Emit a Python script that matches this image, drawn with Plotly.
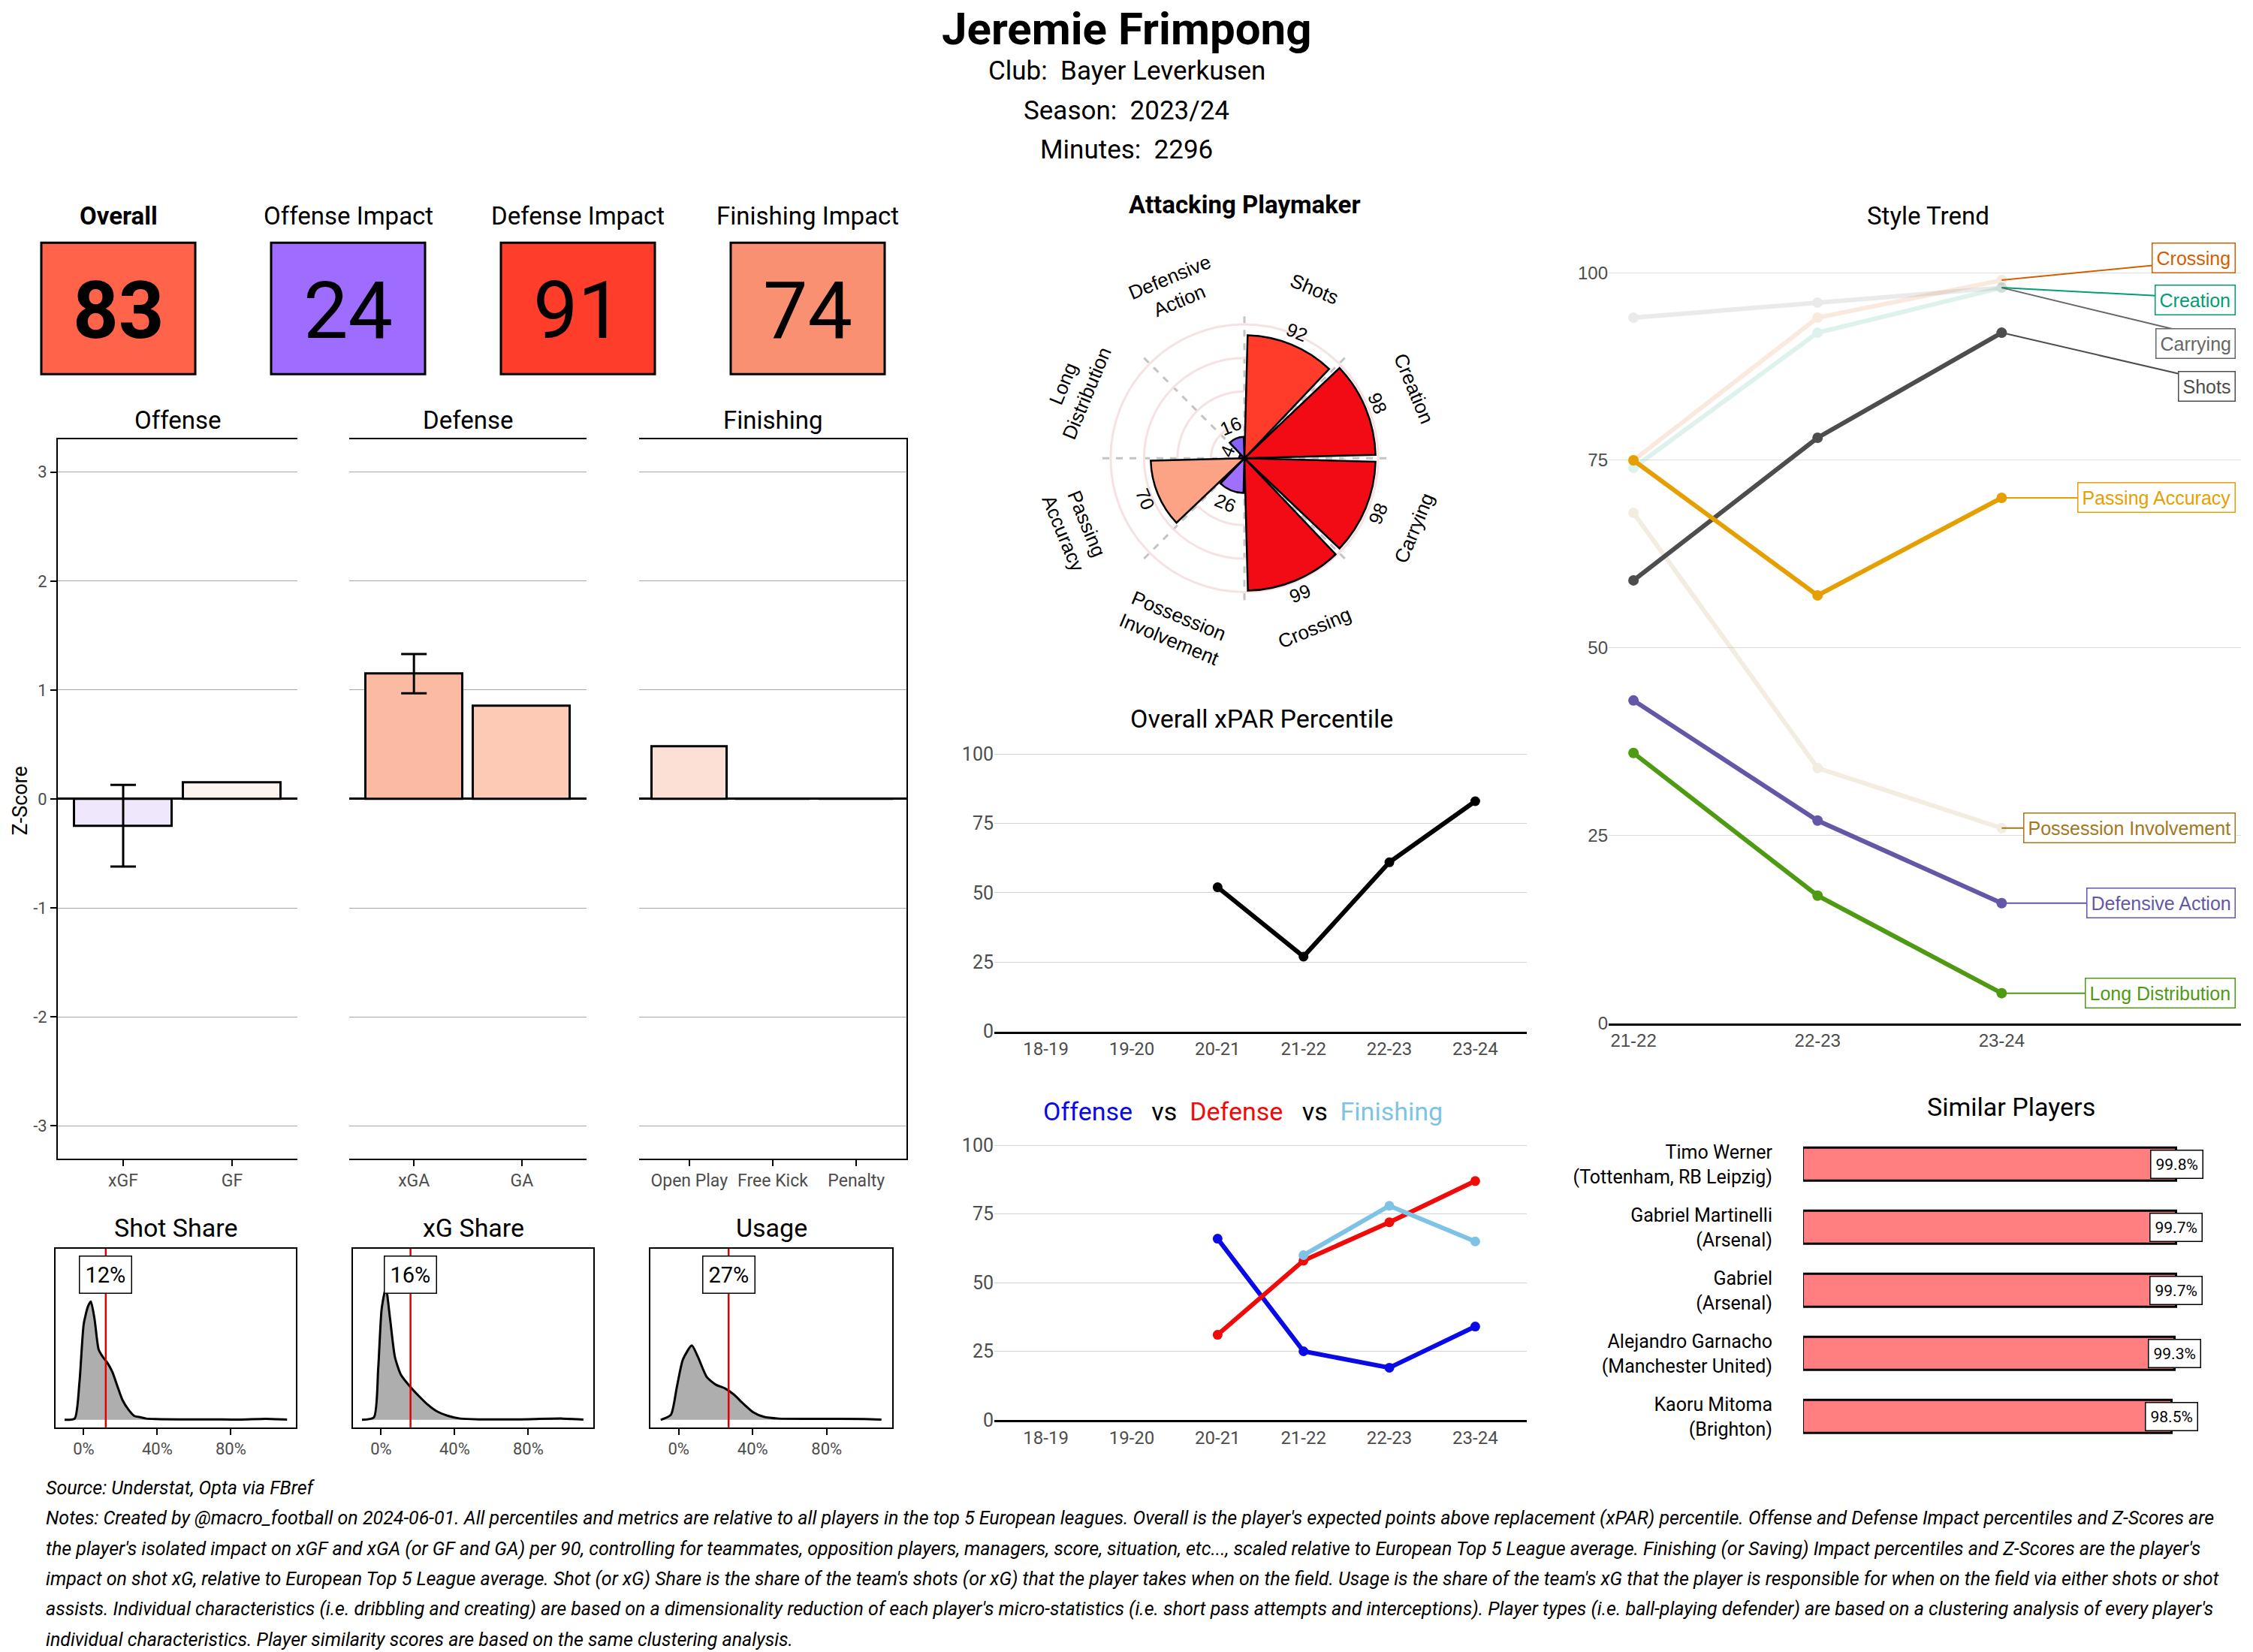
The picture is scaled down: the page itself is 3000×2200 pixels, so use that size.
import math
import plotly.graph_objects as go

W, H = 3000, 2200          # design coordinates (reference pixels)
FIG_H = 2216               # rendered figure height
FONT = "Roboto, Liberation Sans, sans-serif"
SANS = "Liberation Sans, Arial, Helvetica, sans-serif"

# ------------------------------------------------------------------ data
player_name = "Jeremie Frimpong"
club_name = "Bayer Leverkusen"
season_name = "2023/24"
minutes_played = 2296

score_labels = ["Overall", "Offense Impact", "Defense Impact", "Finishing Impact"]
score_values = [83, 24, 91, 74]

offense_cats = ["xGF", "GF"]
offense_z = [-0.25, 0.15]
offense_ci_low = [-0.62, None]
offense_ci_high = [0.13, None]

defense_cats = ["xGA", "GA"]
defense_z = [1.15, 0.85]
defense_ci_low = [0.97, None]
defense_ci_high = [1.33, None]

finishing_cats = ["Open Play", "Free Kick", "Penalty"]
finishing_z = [0.48, 0.0, 0.0]

share_titles = ["Shot Share", "xG Share", "Usage"]
share_values = [12, 16, 27]
shot_share_x = [-10.4, -4.9, -2.3, 0, 2.3, 3.9, 5.9, 8.1, 10.4, 13, 15.6, 18.5, 21, 24.4,
                27.6, 31, 34, 39, 52, 70, 84.5, 99, 110.6]
shot_share_d = [0, 5, 150, 380, 450, 470, 400, 280, 250, 225, 190, 130, 80, 40,
                15, 10, 5, 3, 2, 2, 1, 4, 1]
xg_share_x = [-10.4, -3.9, -1.6, 0.3, 2.6, 4.9, 7.5, 10.7, 16, 20.5, 25.4, 30, 36.7, 43,
              53, 75, 98.7, 110]
xg_share_d = [0, 10, 200, 440, 525, 400, 250, 180, 130, 95, 60, 35, 15, 5,
              2, 2, 5, 1]
usage_x = [-9.7, -4.2, -1, 2.3, 7.1, 10.4, 15.2, 20, 25, 29.9, 34.8, 40.3, 46, 54,
           75, 100, 109.6]
usage_d = [0, 20, 130, 240, 295, 250, 170, 140, 125, 100, 65, 30, 12, 5,
           4, 3, 1]

radar_title = "Attacking Playmaker"
radar_cats = ["Shots", "Creation", "Carrying", "Crossing", "Possession<br>Involvement",
              "Passing<br>Accuracy", "Long<br>Distribution", "Defensive<br>Action"]
radar_vals = [92, 98, 98, 99, 26, 70, 4, 16]

trend_seasons = ["21-22", "22-23", "23-24"]
trend_names = ["Crossing", "Creation", "Carrying", "Possession Involvement",
               "Shots", "Passing Accuracy", "Defensive Action", "Long Distribution"]
crossing_trend = [75, 94, 99]
creation_trend = [74, 92, 98]
carrying_trend = [94, 96, 98]
possession_trend = [68, 34, 26]
shots_trend = [59, 78, 92]
passing_trend = [75, 57, 70]
defensive_trend = [43, 27, 16]
long_dist_trend = [36, 17, 4]

seasons = ["18-19", "19-20", "20-21", "21-22", "22-23", "23-24"]
xpar_pct = [None, None, 52, 27, 61, 83]
offense_pct = [None, None, 66, 25, 19, 34]
defense_pct = [None, None, 31, 58, 72, 87]
finishing_pct = [None, None, None, 60, 78, 65]

similar_names = ["Timo Werner<br>(Tottenham, RB Leipzig)", "Gabriel Martinelli<br>(Arsenal)",
                 "Gabriel<br>(Arsenal)", "Alejandro Garnacho<br>(Manchester United)",
                 "Kaoru Mitoma<br>(Brighton)"]
similar_vals = [99.8, 99.7, 99.7, 99.3, 98.5]

source_text = "Source: Understat, Opta via FBref"
notes_lines = [
    "Notes: Created by @macro_football on 2024-06-01. All percentiles and metrics are relative to all players in the top 5 European leagues. Overall is the player's expected points above replacement (xPAR) percentile. Offense and Defense Impact percentiles and Z-Scores are",
    "the player's isolated impact on xGF and xGA (or GF and GA) per 90, controlling for teammates, opposition players, managers, score, situation, etc..., scaled relative to European Top 5 League average. Finishing (or Saving) Impact percentiles and Z-Scores are the player's",
    "impact on shot xG, relative to European Top 5 League average. Shot (or xG) Share is the share of the team's shots (or xG) that the player takes when on the field. Usage is the share of the team's xG that the player is responsible for when on the field via either shots or shot",
    "assists. Individual characteristics (i.e. dribbling and creating) are based on a dimensionality reduction of each player's micro-statistics (i.e. short pass attempts and interceptions). Player types (i.e. ball-playing defender) are based on a clustering analysis of every player's",
    "individual characteristics. Player similarity scores are based on the same clustering analysis.",
]

# ------------------------------------------------------------------ styles
score_colors = ["#FF634A", "#9E6CFF", "#FF3D2B", "#F99072"]
offense_colors = ["#EFE8FC", "#FDF3EF"]
defense_colors = ["#FBBBA3", "#FCCAB5"]
finishing_colors = ["#FDE0D5", "#FDF3EF", "#FDF3EF"]
radar_colors = ["#FF3B2A", "#F20A14", "#F20A14", "#F20A14", "#9F70FF", "#FCA386", "#7455F0", "#8563F6"]
trend_colors = {"Crossing": "#D55E00", "Creation": "#009E73", "Carrying": "#666666",
                "Possession Involvement": "#A6761D", "Shots": "#4D4D4D",
                "Passing Accuracy": "#E69F00", "Defensive Action": "#6457A8",
                "Long Distribution": "#4F9A13"}
trend_faded = {"Crossing", "Creation", "Carrying", "Possession Involvement"}
trend_label_y = {"Crossing": 102, "Creation": 96.4, "Carrying": 90.6, "Shots": 84.9,
                 "Passing Accuracy": 70, "Possession Involvement": 26,
                 "Defensive Action": 16, "Long Distribution": 4}


def px(x):
    return x / W


def py(y):
    return 1 - y / H


def xd(a, b):
    return [a / W, b / W]


def yd(top, bottom):
    return [1 - bottom / H, 1 - top / H]


fig = go.Figure()
annotations = []
shapes = []


def add_text(text, x, y, size, color="black", family=FONT, xanchor="center",
             yanchor="middle", **kw):
    annotations.append(dict(text=text, x=px(x), y=py(y), xref="paper", yref="paper",
                            showarrow=False, font=dict(family=family, size=size, color=color),
                            xanchor=xanchor, yanchor=yanchor, **kw))


# ------------------------------------------------------------------ header
add_text(f"<b>{player_name}</b>", 1500, 38, 60)
add_text(f"Club:\u00a0 {club_name}", 1500, 94, 35)
add_text(f"Season:\u00a0 {season_name}", 1500, 147, 35)
add_text(f"Minutes:\u00a0 {minutes_played}", 1500, 199, 35)

# ------------------------------------------------------------------ score boxes
box_left = [55, 361, 667, 973]
box_w, box_top, box_bot = 205, 323, 498
for i, (lab, val) in enumerate(zip(score_labels, score_values)):
    x0 = box_left[i]
    cx = x0 + box_w / 2
    shapes.append(dict(type="rect", xref="paper", yref="paper", x0=px(x0), x1=px(x0 + box_w),
                       y0=py(box_bot), y1=py(box_top), fillcolor=score_colors[i],
                       line=dict(color="black", width=3)))
    t = f"<b>{lab}</b>" if i == 0 else lab
    v = f"<b>{val}</b>" if i == 0 else str(val)
    add_text(t, cx, 287, 33)
    add_text(v, cx, 414, 106)

# ------------------------------------------------------------------ z-score panels
z_panels = [
    ("x", "y", offense_cats, offense_z, offense_colors, offense_ci_low, offense_ci_high, "Offense", (77, 396)),
    ("x2", "y2", defense_cats, defense_z, defense_colors, defense_ci_low, defense_ci_high, "Defense", (465, 781)),
    ("x3", "y3", finishing_cats, finishing_z, finishing_colors, None, None, "Finishing", (851, 1207)),
]
for xa, ya, cats, vals, cols, lo, hi, title, (a, b) in z_panels:
    fig.add_trace(go.Bar(x=cats, y=vals, width=0.9, xaxis=xa, yaxis=ya,
                         marker=dict(color=cols, line=dict(color="black", width=3))))
    if lo is not None:
        ex = [c for c, l in zip(cats, lo) if l is not None]
        ey = [v for v, l in zip(vals, lo) if l is not None]
        eh = [h - v for v, h, l in zip(vals, hi, lo) if l is not None]
        el = [v - l for v, l in zip(vals, lo) if l is not None]
        fig.add_trace(go.Scatter(x=ex, y=ey, mode="markers", xaxis=xa, yaxis=ya,
                                 marker=dict(size=1, color="rgba(0,0,0,0)"),
                                 error_y=dict(type="data", symmetric=False, array=eh, arrayminus=el,
                                              color="black", thickness=3, width=17)))
    add_text(title, (a + b) / 2, 559, 33)

add_text("Z-Score", 27, 1066, 27, textangle=-90)

zaxis_x = dict(showline=True, mirror=True, linecolor="black", linewidth=2, ticks="outside",
               ticklen=8, tickwidth=2, tickcolor="black", showgrid=False, zeroline=False,
               tickfont=dict(family=FONT, size=23, color="#4D4D4D"), fixedrange=True)
zaxis_y = dict(range=[-3.3, 3.3], tickvals=[-3, -2, -1, 0, 1, 2, 3],
               ticktext=["-3", "-2", "-1", "0", "1", "2", "3"], showgrid=True,
               gridcolor="#A8A8A8", gridwidth=1.3, zeroline=True, zerolinecolor="black",
               zerolinewidth=3, tickfont=dict(family=FONT, size=22, color="#4D4D4D"),
               domain=yd(585, 1542), fixedrange=True)

layout_axes = {}
layout_axes["xaxis"] = dict(zaxis_x, domain=xd(77, 396), range=[-0.6, 1.6], anchor="y")
layout_axes["xaxis2"] = dict(zaxis_x, domain=xd(465, 781), range=[-0.6, 1.6], anchor="y2")
layout_axes["xaxis3"] = dict(zaxis_x, domain=xd(851, 1207), range=[-0.6, 2.6], anchor="y3")
layout_axes["yaxis"] = dict(zaxis_y, anchor="x", showline=True, linecolor="black", linewidth=2,
                            ticks="outside", ticklen=8, tickwidth=2, tickcolor="black")
layout_axes["yaxis2"] = dict(zaxis_y, anchor="x2", showticklabels=False, ticks="")
layout_axes["yaxis3"] = dict(zaxis_y, anchor="x3", showticklabels=False, ticks="", side="right",
                             showline=True, linecolor="black", linewidth=2)

# ------------------------------------------------------------------ density panels
dens_panels = [
    ("x4", "y4", shot_share_x, shot_share_d, (74, 394)),
    ("x5", "y5", xg_share_x, xg_share_d, (470, 790)),
    ("x6", "y6", usage_x, usage_d, (866, 1188)),
]
for i, (xa, ya, dx, dy, (a, b)) in enumerate(dens_panels):
    fig.add_trace(go.Scatter(x=dx, y=dy, mode="lines", fill="tozeroy", fillcolor="#AEAEAE",
                             line=dict(color="black", width=3, shape="spline", smoothing=0.6),
                             xaxis=xa, yaxis=ya))
    shapes.append(dict(type="line", xref=xa, yref=ya + " domain", x0=share_values[i],
                       x1=share_values[i], y0=0, y1=1, line=dict(color="#E00000", width=2.5)))
    annotations.append(dict(text=f"{share_values[i]}%", x=share_values[i], y=575, xref=xa, yref=ya,
                            showarrow=False, font=dict(family=FONT, size=29, color="black"),
                            bgcolor="white", bordercolor="black", borderwidth=1.5, borderpad=7))
    add_text(share_titles[i], (a + b) / 2, 1634, 34)
    layout_axes["xaxis" + str(i + 4)] = dict(
        domain=xd(a, b), range=[-15.3, 115.4], tickvals=[0, 40, 80],
        ticktext=["0%", "40%", "80%"], showline=True, mirror=True, linecolor="black",
        linewidth=2, ticks="outside", ticklen=8, tickwidth=2, tickcolor="black",
        showgrid=False, zeroline=False, anchor=ya,
        tickfont=dict(family=FONT, size=22, color="#4D4D4D"))
    layout_axes["yaxis" + str(i + 4)] = dict(
        domain=yd(1662, 1900), range=[-30, 680], showticklabels=False, showgrid=False,
        zeroline=False, showline=True, mirror=True, linecolor="black", linewidth=2,
        ticks="", anchor=xa)

# ------------------------------------------------------------------ radar (polar)
cx, cy, outer = 1657, 610, 196
rmax = 110
k = outer / rmax
theta = [22.5 + 45 * i for i in range(len(radar_cats))]
fig.add_trace(go.Barpolar(r=radar_vals, theta=theta, width=[42] * len(radar_vals),
                          marker=dict(color=radar_colors, line=dict(color="black", width=2.5)),
                          subplot="polar"))


def tangent_angle(phi):
    if phi < 90:
        return phi
    if phi < 270:
        return phi - 180
    return phi - 360


for i, phi in enumerate(theta):
    rad = math.radians(phi)
    rv = radar_vals[i] + 10
    add_text(str(radar_vals[i]), cx + rv * k * math.sin(rad), cy - rv * k * math.cos(rad), 25,
             family=SANS, textangle=tangent_angle(phi))
    rc = 137
    add_text(radar_cats[i], cx + rc * k * math.sin(rad), cy - rc * k * math.cos(rad), 26,
             family=SANS, textangle=tangent_angle(phi))
add_text(f"<b>{radar_title}</b>", cx, 272, 33)

polar = dict(
    domain=dict(x=xd(cx - outer, cx + outer), y=yd(cy - outer, cy + outer)),
    bgcolor="white",
    radialaxis=dict(range=[0, rmax], tickvals=[25, 50, 75, 100], showticklabels=False,
                    showline=False, ticks="", gridcolor="#F6E2E2", gridwidth=2.5),
    angularaxis=dict(rotation=90, direction="clockwise", tickvals=[0, 45, 90, 135, 180, 225, 270, 315],
                     showticklabels=False, showline=False, ticks="", gridcolor="#C4C4C4",
                     griddash="dash", gridwidth=2.5),
)

# ------------------------------------------------------------------ style trend
trend_map = {"Crossing": crossing_trend, "Creation": creation_trend, "Carrying": carrying_trend,
             "Possession Involvement": possession_trend, "Shots": shots_trend,
             "Passing Accuracy": passing_trend, "Defensive Action": defensive_trend,
             "Long Distribution": long_dist_trend}
tx = list(range(len(trend_seasons)))
for name in trend_names:
    vals = trend_map[name]
    col = trend_colors[name]
    fig.add_trace(go.Scatter(x=[tx[-1], 3.25], y=[vals[-1], trend_label_y[name]], mode="lines",
                             line=dict(color=col, width=2), xaxis="x7", yaxis="y7"))
for name in trend_names:
    vals = trend_map[name]
    col = trend_colors[name]
    fig.add_trace(go.Scatter(x=tx, y=vals, mode="lines+markers", xaxis="x7", yaxis="y7",
                             opacity=0.13 if name in trend_faded else 1.0,
                             line=dict(color=col, width=6), marker=dict(color=col, size=14)))
for name in trend_names:
    col = trend_colors[name]
    annotations.append(dict(text=name, x=3.27, y=trend_label_y[name], xref="x7", yref="y7",
                            xanchor="right", showarrow=False,
                            font=dict(family=SANS, size=25, color=col), bgcolor="white",
                            bordercolor=col, borderwidth=1.5, borderpad=5))
add_text("Style Trend", 2567, 287, 33)
layout_axes["xaxis7"] = dict(domain=xd(2142, 2984), range=[-0.135, 3.3], tickvals=tx,
                             ticktext=trend_seasons, showline=True, linecolor="black", linewidth=3,
                             showgrid=False, zeroline=False, ticks="", anchor="y7",
                             tickfont=dict(family=SANS, size=24, color="#4D4D4D"))
layout_axes["yaxis7"] = dict(domain=yd(323, 1362), range=[0, 104], tickvals=[0, 25, 50, 75, 100],
                             showgrid=True, gridcolor="#DEDEDE", gridwidth=1.3, zeroline=False,
                             showline=False, ticks="", anchor="x7",
                             tickfont=dict(family=SANS, size=24, color="#4D4D4D"))

# ------------------------------------------------------------------ xPAR percentile
sx = list(range(len(seasons)))
fig.add_trace(go.Scatter(x=sx, y=xpar_pct, mode="lines+markers", xaxis="x8", yaxis="y8",
                         line=dict(color="black", width=6), marker=dict(color="black", size=13)))
add_text("Overall xPAR Percentile", 1680, 957, 34)

# ------------------------------------------------------------------ offense vs defense vs finishing
for vals, col in [(offense_pct, "#0A0AE6"), (defense_pct, "#F00A0A"), (finishing_pct, "#7EC3E6")]:
    fig.add_trace(go.Scatter(x=sx, y=vals, mode="lines+markers", xaxis="x9", yaxis="y9",
                             line=dict(color=col, width=6), marker=dict(color=col, size=13)))
add_text("<span style='color:#0A0AE6'>Offense</span>\u00a0\u00a0 vs \u00a0"
         "<span style='color:#F00A0A'>Defense</span>\u00a0\u00a0 vs \u00a0"
         "<span style='color:#7EC3E6'>Finishing</span>", 1655, 1479, 34)

line_x = dict(domain=xd(1324, 2033), range=[-0.6, 5.6], tickvals=sx, ticktext=seasons,
              showline=True, linecolor="black", linewidth=3, showgrid=False, zeroline=False,
              ticks="", tickfont=dict(family=FONT, size=24, color="#4D4D4D"))
line_y = dict(range=[0, 104], tickvals=[0, 25, 50, 75, 100], showgrid=True, gridcolor="#D4D4D4",
              gridwidth=1.3, zeroline=False, showline=False, ticks="",
              tickfont=dict(family=FONT, size=25, color="#4D4D4D"))
layout_axes["xaxis8"] = dict(line_x, anchor="y8")
layout_axes["yaxis8"] = dict(line_y, domain=yd(989, 1373), anchor="x8")
layout_axes["xaxis9"] = dict(line_x, anchor="y9")
layout_axes["yaxis9"] = dict(line_y, domain=yd(1510, 1890), anchor="x9")

# ------------------------------------------------------------------ similar players
fig.add_trace(go.Bar(x=similar_vals, y=similar_names, orientation="h", width=0.52,
                     xaxis="x10", yaxis="y10",
                     marker=dict(color="#FF7F80", line=dict(color="black", width=3))))
for name, v in zip(similar_names, similar_vals):
    annotations.append(dict(text=f"{v}%", x=v, y=name, xref="x10", yref="y10", showarrow=False,
                            font=dict(family=FONT, size=21, color="black"), bgcolor="white",
                            bordercolor="black", borderwidth=1.5, borderpad=6))
add_text("Similar Players", 2678, 1473, 34)
layout_axes["xaxis10"] = dict(domain=xd(2401, 2939), range=[0, 108], showticklabels=False,
                              showgrid=False, zeroline=False, showline=False, ticks="",
                              anchor="y10")
layout_axes["yaxis10"] = dict(domain=yd(1504, 1932), range=[4.55, -0.55], type="category",
                              showgrid=False, zeroline=False, showline=False, ticks="",
                              ticklabelstandoff=40, anchor="x10",
                              tickfont=dict(family=FONT, size=25, color="black"))

# ------------------------------------------------------------------ notes
add_text(f"<i>{source_text}</i>", 59, 1981, 25, xanchor="left")
for i, line in enumerate(notes_lines):
    add_text(f"<i>{line}</i>", 59, 2021 + 40.3 * i, 25, xanchor="left")

fig.update_layout(width=W, height=FIG_H, margin=dict(l=0, r=0, t=0, b=0),
                  paper_bgcolor="white", plot_bgcolor="white", showlegend=False,
                  bargap=0, polar=polar, annotations=annotations, shapes=shapes,
                  font=dict(family=FONT, color="black"), **layout_axes)

page_fix = "document.body.style.margin='0';"
fig.write_html("out.html", config={"displayModeBar": False}, post_script=page_fix)
